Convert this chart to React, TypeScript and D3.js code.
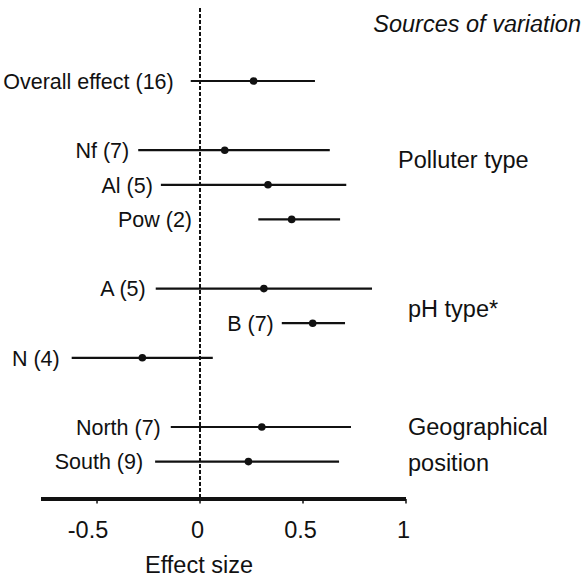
import React, { useEffect, useRef } from 'react';
import { select, scaleLinear } from 'd3';

const width = 582;
const height = 580;

// forest plot data
const labels = ["Overall effect (16)", "Nf (7)", "Al (5)", "Pow (2)", "A (5)", "B (7)", "N (4)", "North (7)", "South (9)"];
const groups = [0, 1, 1, 1, 2, 2, 2, 3, 3];
const means = [0.26, 0.12, 0.33, 0.445, 0.31, 0.547, -0.28, 0.30, 0.235];
const lower = [-0.045, -0.30, -0.19, 0.283, -0.215, 0.397, -0.623, -0.142, -0.218];
const upper = [0.558, 0.63, 0.71, 0.68, 0.835, 0.704, 0.062, 0.733, 0.675];

const groupNames = [["Polluter type"], ["pH type*"], ["Geographical", "position"]];
const tickValues = [-0.5, 0, 0.5, 1];
const tickLabels = ["-0.5", "0", "0.5", "1"];
const xTitle = "Effect size";
const legendTitle = "Sources of variation";

const App = () => {
  const svgRef = useRef<SVGSVGElement>(null);

  useEffect(() => {
    const svg = select(svgRef.current);
    svg.selectAll("*").remove();

    const ink = "#111";
    const font = "'Liberation Sans', Arial, sans-serif";

    //Scales
    const x = scaleLinear().domain([-0.772, 1]).range([41, 406]);
    // one blank row between groups
    const rows = groups.map((g, i) => i + g);
    const y = scaleLinear().domain([0, 11]).range([81, 461.6]);
    const axisY = 499;

    // label gap in px left of each bar (Pow sits next to the zero line)
    const labelGap = [17, 9, 8, 0, 10, 8, 12, 10, 12];
    const labelX = (i: number) => labels[i].startsWith("Pow") ? x(0) - 8 : x(lower[i]) - labelGap[i];

    // zero line
    svg.append("line")
      .attr("x1", Math.round(x(0))).attr("x2", Math.round(x(0)))
      .attr("y1", 8).attr("y2", axisY)
      .attr("stroke", ink)
      .attr("stroke-width", 2)
      .attr("stroke-dasharray", "4,2");

    // axis
    svg.append("line")
      .attr("x1", x.range()[0]).attr("x2", x.range()[1])
      .attr("y1", axisY).attr("y2", axisY)
      .attr("stroke", ink)
      .attr("stroke-width", 4);

    const ticks = svg.append("g")
      .selectAll("g")
      .data(tickValues)
      .join("g")
        .attr("transform", d => `translate(${x(d)},0)`);
    ticks.append("line")
      .attr("y1", axisY).attr("y2", axisY + 4.5)
      .attr("stroke", ink)
      .attr("stroke-width", 1.5);
    ticks.append("text")
      .attr("x", d => d < 0 ? -9 : -2.5)
      .attr("y", 538)
      .attr("text-anchor", "middle")
      .style("font", `23.5px ${font}`)
      .style("fill", ink)
      .text((d, i) => tickLabels[i]);

    svg.append("text")
      .attr("x", x(0) - 1)
      .attr("y", 573)
      .attr("text-anchor", "middle")
      .style("font", `23.5px ${font}`)
      .style("fill", ink)
      .text(xTitle);

    // error bars
    const row = svg.append("g")
      .selectAll("g")
      .data(labels)
      .join("g")
        .attr("transform", (d, i) => `translate(0,${y(rows[i])})`);
    row.append("line")
      .attr("x1", (d, i) => x(lower[i]))
      .attr("x2", (d, i) => x(upper[i]))
      .attr("stroke", ink)
      .attr("stroke-width", 2.2);
    row.append("circle")
      .attr("cx", (d, i) => x(means[i]))
      .attr("r", 3.8)
      .attr("fill", ink);
    row.append("text")
      .attr("x", (d, i) => labelX(i))
      .attr("dy", "0.36em")
      .attr("text-anchor", "end")
      .style("font", `21.5px ${font}`)
      .style("fill", ink)
      .text(d => d);

    // group names on the right
    const groupPos = [[398, [2.51]], [408, [6.82]], [408, [10.23, 11.26]]] as [number, number[]][];
    groupNames.forEach((lines, gi) => {
      lines.forEach((t, li) => {
        svg.append("text")
          .attr("x", groupPos[gi][0])
          .attr("y", y(groupPos[gi][1][li]))
          .style("font", `23.5px ${font}`)
          .style("fill", ink)
          .text(t);
      });
    });

    svg.append("text")
      .attr("x", 581)
      .attr("y", 32)
      .attr("text-anchor", "end")
      .style("font", `italic 23.5px ${font}`)
      .style("fill", ink)
      .text(legendTitle);
  }, []);

  return (
    <svg
      ref={svgRef}
      width={width}
      height={height}
      style={{ position: "absolute", left: 0, top: 0, background: "#fff" }}
    />
  );
};

export default App;
